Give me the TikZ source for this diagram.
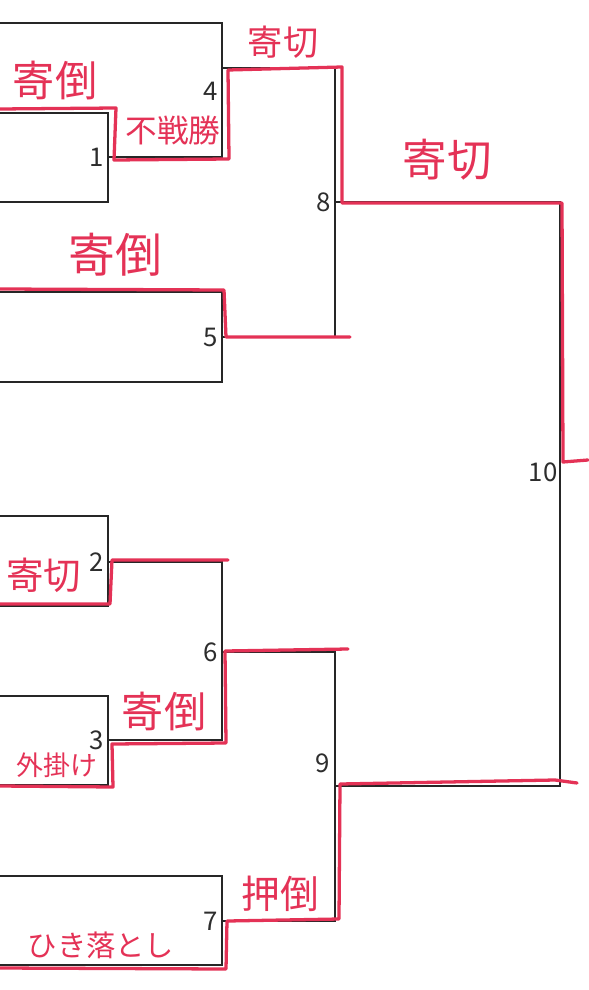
\documentclass[tikz,border=0pt]{standalone}
\usepackage{fontspec}
\setmainfont{Noto Sans CJK JP}
\usetikzlibrary{positioning}
\definecolor{penred}{RGB}{228,50,86}
\definecolor{numgray}{RGB}{45,45,45}

\begin{document}
\begin{tikzpicture}[
    x=0.03cm, y=-0.03cm,
    bracket/.style={draw=black!85, line width=0.9pt},
    pen/.style={draw=penred, line width=2.8pt, line cap=round, line join=round},
    seed/.style={font=\fontsize{22}{22}\selectfont, text=numgray, inner sep=0pt},
    kimarite/.style={font=\fontsize{#1}{#1}\selectfont, text=penred, inner sep=0pt},
    kimarite/.default=30
]
\useasboundingbox (0,0) rectangle (588,990);

% Entrants (free ends at the left edge)
\coordinate (e4)  at (0,23);
\coordinate (e1a) at (0,113);
\coordinate (e1b) at (0,202);
\coordinate (e5a) at (0,292);
\coordinate (e5b) at (0,382);
\coordinate (e2a) at (0,516);
\coordinate (e2b) at (0,606);
\coordinate (e3a) at (0,696);
\coordinate (e3b) at (0,785);
\coordinate (e7a) at (0,876);
\coordinate (e7b) at (0,965);

% Matches
\coordinate (m1)  at (108,157);
\coordinate (m4)  at (222,68);
\coordinate (m5)  at (222,337);
\coordinate (m8)  at (335,202);
\coordinate (m2)  at (108,562);
\coordinate (m3)  at (108,740);
\coordinate (m6)  at (222,652);
\coordinate (m7)  at (222,921);
\coordinate (m9)  at (335,786);
\coordinate (m10) at (560,494);

% Bracket lines
\draw[bracket] (e1a) -| (m1) |- (e1b);
\draw[bracket] (e4) -| (m4) |- (m1);
\draw[bracket] (e5a) -| (m5) |- (e5b);
\draw[bracket] (m4) -| (m8) |- (m5);
\draw[bracket] (e2a) -| (m2) |- (e2b);
\draw[bracket] (e3a) -| (m3) |- (e3b);
\draw[bracket] (m2) -| (m6) |- (m3);
\draw[bracket] (e7a) -| (m7) |- (e7b);
\draw[bracket] (m6) -| (m9) |- (m7);
\draw[bracket] (m8) -| (m10) |- (m9);

% Match numbers
\node[seed, left=3pt of m1] (n1) {1};
\node[seed] (n4) at (211,91) {4};
\node[seed, left=3pt of m5] (n5) {5};
\node[seed, left=3pt of m8] (n8) {8};
\node[seed, left=3pt of m2] (n2) {2};
\node[seed, left=3pt of m3] (n3) {3};
\node[seed, left=3pt of m6] (n6) {6};
\node[seed, left=3pt of m7] (n7) {7};
\node[seed] (n9) at (323,763) {9};
\node[seed] (n10) at (543,472) {10};

% Winners (red pen)
\draw[pen] (0,109) -- (116,108) -- (114,160) -- (229,159) -- (228,70)
    -- (342,67) -- (342,203) -- (562,203) -- (563,462) -- (588,460);
\draw[pen] (0,289) -- (224,290) -- (226,337) -- (350,337);
\draw[pen] (0,604) -- (110,604) -- (112,560) -- (228,560);
\draw[pen] (0,786) -- (113,787) -- (112,744) -- (226,743) -- (225,651) -- (348,649);
\draw[pen] (0,968) -- (226,969) -- (227,921) -- (339,919) -- (340,784)
    -- (555,780) -- (577,783);

% Kimarite
\node[kimarite=36] (k1) at (55,81) {寄倒};
\node[kimarite=27] (k4) at (173,130) {不戦勝};
\node[kimarite=30] (k8) at (283,42) {寄切};
\node[kimarite=38] (k10) at (447,160) {寄切};
\node[kimarite=40] (k5) at (115,255) {寄倒};
\node[kimarite=32] (k2) at (44,575) {寄切};
\node[kimarite=23] (k3) at (57,765) {外掛け};
\node[kimarite=36] (k6) at (164,712) {寄倒};
\node[kimarite=25] (k7) at (101,945) {ひき落とし};
\node[kimarite=33] (k9) at (280,894) {押倒};

\end{tikzpicture}
\end{document}
